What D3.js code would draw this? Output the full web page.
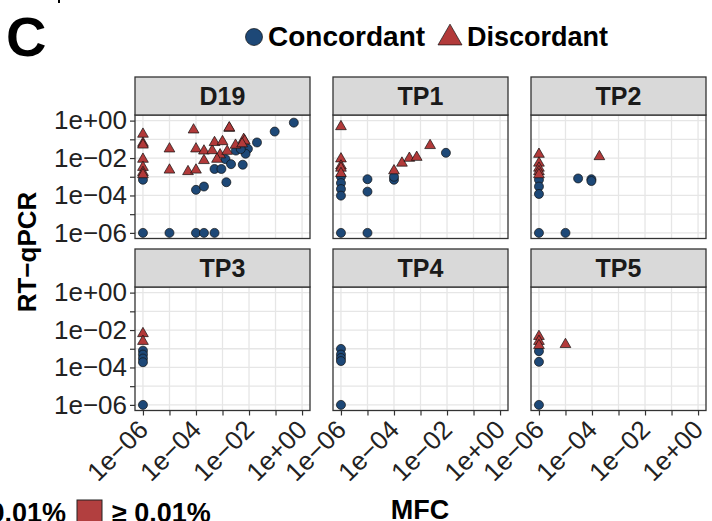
<!DOCTYPE html>
<html>
<head>
<meta charset="utf-8">
<script src="https://cdn.jsdelivr.net/npm/d3@7"></script>
<style>
body { margin: 0; background: #fff; }
svg { display: block; }
text { font-family: "Liberation Sans", Arial, Helvetica, sans-serif; }
</style>
</head>
<body>
<div id="chart"></div>
<script>
let w = 712;
let h = 521;

const panels = ["D19", "TP1", "TP2", "TP3", "TP4", "TP5"];
const axisLimits = [1e-6, 1];
const decadeTicks = [1e-6, 1e-5, 1e-4, 1e-3, 1e-2, 1e-1, 1];
const tickLabels = ["1e\u221206", "", "1e\u221204", "", "1e\u221202", "", "1e+00"];
const statusNames = ["Concordant", "Discordant"];
const colors = ["#1d4877", "#b23a3a"];

// points are [MFC, RT-qPCR]
const d19Concordant = [[4.9e-1, 7.8e-1], [9.3e-2, 2.6e-1], [2.0e-2, 6.8e-2], [5.1e-3, 4.1e-2], [9.1e-3, 3.1e-2],
    [3.2e-3, 2.5e-2], [7.4e-3, 1.7e-2], [4.9e-3, 3.0e-2], [1.3e-3, 8.7e-3], [2.1e-3, 4.7e-3], [5.8e-3, 4.4e-3],
    [5.0e-4, 2.6e-3], [9.1e-4, 2.6e-3], [1.4e-3, 5.1e-4], [1.0e-4, 2.0e-4], [2.0e-4, 3.0e-4], [1e-6, 6.9e-4],
    [1e-6, 1e-6], [1e-5, 1e-6], [1e-4, 1e-6], [2.0e-4, 1e-6], [5.0e-4, 1e-6]];
const d19Discordant = [[1e-6, 1.9e-1], [1e-6, 6.2e-2], [1e-6, 5.0e-2], [1e-6, 8.7e-3], [1e-6, 3.2e-3],
    [1e-6, 1.7e-3], [1e-6, 1.3e-3], [1e-5, 3.1e-2], [1e-5, 2.3e-3], [5.0e-5, 1.9e-3], [1.0e-4, 2.3e-3],
    [8.1e-5, 3.2e-1], [1.0e-4, 3.1e-2], [2.0e-4, 2.4e-2], [2.0e-4, 7.4e-3], [4.1e-4, 2.5e-2], [5.0e-4, 6.8e-2],
    [1.0e-3, 7.6e-2], [8.1e-4, 1.5e-2], [6.2e-4, 8.7e-3], [1.5e-3, 2.3e-2], [1.8e-3, 3.9e-1], [1.8e-3, 4.2e-1],
    [3.1e-3, 4.9e-2], [6.3e-3, 1.0e-1], [6.9e-3, 8.3e-2], [5.5e-3, 5.8e-2]];
const tp1Concordant = [[9.1e-3, 1.9e-2], [1e-5, 7.4e-4], [1e-5, 1.6e-4], [1e-4, 6.9e-4], [1e-4, 1.0e-3],
    [1e-6, 1.0e-3], [1e-6, 4.6e-4], [1e-6, 2.2e-4], [1e-6, 9.8e-5], [1e-6, 1e-6], [1e-5, 1e-6]];
const tp1Discordant = [[1e-6, 4.8e-1], [1e-6, 9.1e-3], [1e-6, 3.8e-3], [1e-6, 2.9e-3], [1e-6, 1.5e-3],
    [1.0e-4, 2.1e-3], [2.0e-4, 5.4e-3], [3.8e-4, 9.8e-3], [7.2e-4, 1.1e-2], [2.3e-3, 4.7e-2]];
const tp2Concordant = [[1e-6, 6.9e-4], [1e-6, 3.0e-4], [1e-6, 1.2e-4], [3.0e-5, 8.1e-4], [9.5e-5, 7.4e-4],
    [9.5e-5, 5.9e-4], [1e-6, 1e-6], [1e-5, 1e-6]];
const tp2Discordant = [[1e-6, 1.6e-2], [1e-6, 5.4e-3], [1e-6, 2.9e-3], [1e-6, 1.9e-3], [1e-6, 1.3e-3],
    [1.9e-4, 1.2e-2]];
const tp3Concordant = [[1e-6, 7.9e-4], [1e-6, 4.9e-4], [1e-6, 3.0e-4], [1e-6, 1.9e-4], [1e-6, 1e-6]];
const tp3Discordant = [[1e-6, 6.5e-3], [1e-6, 2.5e-3]];
const tp4Concordant = [[1e-6, 9.8e-4], [1e-6, 4.9e-4], [1e-6, 3.2e-4], [1e-6, 2.2e-4], [1e-6, 1e-6]];
const tp4Discordant = [];
const tp5Concordant = [[1e-6, 7.4e-4], [1e-6, 2.0e-4], [1e-6, 1e-6]];
const tp5Discordant = [[1e-6, 4.6e-3], [1e-6, 2.5e-3], [1e-6, 1.5e-3], [1e-5, 1.7e-3]];

const concordant = [d19Concordant, tp1Concordant, tp2Concordant, tp3Concordant, tp4Concordant, tp5Concordant];
const discordant = [d19Discordant, tp1Discordant, tp2Discordant, tp3Discordant, tp4Discordant, tp5Discordant];

// layout
const colX = [135, 333, 531];
const rowY = [77, 249];
const panelW = 175;
const stripH = 38;
const panelH = 123.5;
const font = 26;

let svg = d3.select("#chart")
    .append("svg")
    .attr("width", w)
    .attr("height", h);

// ggplot style 5% expansion of the log limits
let lo = Math.log10(axisLimits[0]), hi = Math.log10(axisLimits[1]);
let pad = (hi - lo) * 0.05;
let expanded = [Math.pow(10, lo - pad), Math.pow(10, hi + pad)];

let triangle = d3.symbol().type(d3.symbolTriangle);

panels.forEach((name, i) => {
    let col = i % 3, row = Math.floor(i / 3);
    let x0 = colX[col], top = rowY[row] + stripH;

    let xScale = d3.scaleLog().domain(expanded).range([x0, x0 + panelW]);
    let yScale = d3.scaleLog().domain(expanded).range([top + panelH, top]);

    let g = svg.append("g");

    // grid
    g.selectAll(".gx").data(decadeTicks).enter().append("line")
        .attr("x1", d => xScale(d)).attr("x2", d => xScale(d))
        .attr("y1", top).attr("y2", top + panelH)
        .style("stroke", "#e6e6e6").style("stroke-width", 1.3);
    g.selectAll(".gy").data(decadeTicks).enter().append("line")
        .attr("y1", d => yScale(d)).attr("y2", d => yScale(d))
        .attr("x1", x0).attr("x2", x0 + panelW)
        .style("stroke", "#e6e6e6").style("stroke-width", 1.3);

    // points
    g.selectAll(".conc").data(concordant[i]).enter().append("circle")
        .attr("cx", d => xScale(d[0]))
        .attr("cy", d => yScale(d[1]))
        .attr("r", 4.5)
        .style("fill", colors[0])
        .style("stroke", "#111").style("stroke-width", 0.7);
    g.selectAll(".disc").data(discordant[i]).enter().append("path")
        .attr("d", triangle.size(50))
        .attr("transform", d => "translate(" + xScale(d[0]) + "," + yScale(d[1]) + ")")
        .style("fill", colors[1])
        .style("stroke", "#111").style("stroke-width", 0.7);

    // border
    g.append("rect")
        .attr("x", x0).attr("y", top).attr("width", panelW).attr("height", panelH)
        .style("fill", "none").style("stroke", "#333").style("stroke-width", 1.3);

    // strip
    g.append("rect")
        .attr("x", x0).attr("y", rowY[row]).attr("width", panelW).attr("height", stripH)
        .style("fill", "#d9d9d9").style("stroke", "#333").style("stroke-width", 1.3);
    g.append("text")
        .attr("x", x0 + panelW / 2).attr("y", rowY[row] + stripH / 2 + 9)
        .attr("text-anchor", "middle")
        .style("font-size", "25px").style("font-weight", "bold").style("fill", "#1a1a1a")
        .text(name);

    // y axis on the first column
    if (col === 0) {
        let yAxis = d3.axisLeft(yScale).tickValues(decadeTicks)
            .tickFormat((d, k) => tickLabels[k]).tickSize(5).tickPadding(3);
        let ya = g.append("g").attr("transform", "translate(" + x0 + ",0)").call(yAxis);
        ya.select(".domain").remove();
        ya.selectAll("line").style("stroke", "#333").style("stroke-width", 1.2);
        ya.selectAll("text").style("font-size", font + "px").style("fill", "#222")
            .style("font-family", '"Liberation Sans", Arial, sans-serif');
    }

    // x axis on the bottom row
    if (row === 1) {
        let xAxis = d3.axisBottom(xScale).tickValues(decadeTicks).tickFormat("").tickSize(5);
        let xa = g.append("g").attr("transform", "translate(0," + (top + panelH) + ")").call(xAxis);
        xa.select(".domain").remove();
        xa.selectAll("line").style("stroke", "#333").style("stroke-width", 1.2);
        g.selectAll(".xl").data(decadeTicks.filter((d, k) => tickLabels[k] !== "")).enter().append("text")
            .attr("transform", d => "translate(" + (xScale(d) - 1) + "," + (top + panelH + 13) + ") rotate(-45)")
            .attr("text-anchor", "end")
            .attr("dy", "0.42em")
            .style("font-size", font + "px").style("fill", "#222")
            .text(d => tickLabels[decadeTicks.indexOf(d)]);
    }
});

// axis titles
svg.append("text")
    .attr("transform", "translate(36,252) rotate(-90)")
    .attr("text-anchor", "middle")
    .style("font-size", "26px").style("font-weight", "bold")
    .text("RT\u2212qPCR");
svg.append("text")
    .attr("x", 420).attr("y", 519)
    .attr("text-anchor", "middle")
    .style("font-size", "27px").style("font-weight", "bold")
    .text("MFC");

// panel letter
svg.append("text")
    .attr("x", 6).attr("y", 56)
    .style("font-size", "56px").style("font-weight", "bold")
    .text("C");
svg.append("rect").attr("x", 58).attr("y", 0).attr("width", 2).attr("height", 3).style("fill", "#000");

// top legend
svg.append("circle").attr("cx", 254).attr("cy", 37).attr("r", 8.5)
    .style("fill", colors[0]).style("stroke", "#111").style("stroke-width", 0.7);
svg.append("text").attr("x", 268).attr("y", 46)
    .style("font-size", "28px").style("font-weight", "bold").text(statusNames[0]);
svg.append("path").attr("d", triangle.size(250)).attr("transform", "translate(450,38)")
    .style("fill", colors[1]).style("stroke", "#111").style("stroke-width", 0.7);
svg.append("text").attr("x", 467).attr("y", 46)
    .style("font-size", "27px").style("font-weight", "bold").text(statusNames[1]);

// bottom legend (cut off in the original)
svg.append("text").attr("x", 66).attr("y", 522)
    .attr("text-anchor", "end")
    .style("font-size", "27px").style("font-weight", "bold").text("< 0.01%");
svg.append("rect").attr("x", 77).attr("y", 500).attr("width", 25).attr("height", 26)
    .style("fill", "#b23f3f").style("stroke", "#222").style("stroke-width", 1);
svg.append("text").attr("x", 112).attr("y", 522)
    .style("font-size", "27px").style("font-weight", "bold").text("\u2265 0.01%");
</script>
</body>
</html>
